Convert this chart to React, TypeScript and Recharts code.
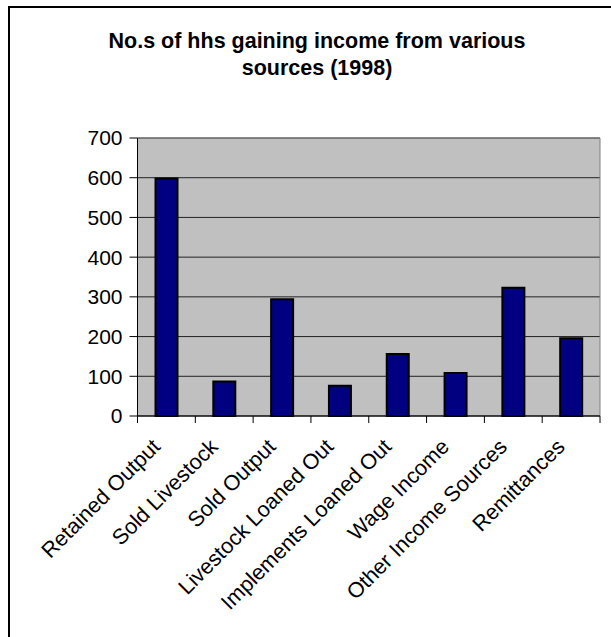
import React from 'react';
import { BarChart, Bar, XAxis, YAxis, CartesianGrid } from 'recharts';

const CATEGORIES = [
  'Retained Output',
  'Sold Livestock',
  'Sold Output',
  'Livestock Loaned Out',
  'Implements Loaned Out',
  'Wage Income',
  'Other Income Sources',
  'Remittances',
];
const HOUSEHOLDS = [598, 87, 294, 76, 156, 108, 323, 196];
const Y_TICKS = [0, 100, 200, 300, 400, 500, 600, 700];

const FONT = '"Liberation Sans", Arial, sans-serif';

const data = CATEGORIES.map((name, i) => ({ name, value: HOUSEHOLDS[i] }));

// angled category label plus Excel-style tick marks between categories
const CategoryTick = (props: any) => {
  const { x, y, payload, index, width, visibleTicksCount } = props;
  const band = width / visibleTicksCount;
  const axisY = y - 7;
  return (
    <g>
      <line x1={x - band / 2} x2={x - band / 2} y1={axisY} y2={axisY + 7} stroke="#000" />
      {index === visibleTicksCount - 1 && (
        <line x1={x + band / 2} x2={x + band / 2} y1={axisY} y2={axisY + 7} stroke="#000" />
      )}
      <text
        x={0}
        y={0}
        transform={`translate(${x - 5},${y + 25}) rotate(-45)`}
        textAnchor="end"
        fontSize={21.6}
        fontFamily={FONT}
        fill="#000"
      >
        {payload.value}
      </text>
    </g>
  );
};

const App: React.FC = () => {
  return (
    <div
      style={{
        position: 'absolute',
        left: 8,
        top: 6,
        width: 601,
        height: 629,
        borderTop: '2px solid #000',
        borderLeft: '2px solid #000',
        background: '#fff',
        fontFamily: FONT,
      }}
    >
      <div
        style={{
          position: 'absolute',
          left: 57,
          top: 20,
          width: 500,
          textAlign: 'center',
          fontSize: 21.5,
          fontWeight: 'bold',
          lineHeight: '26.6px',
        }}
      >
        No.s of hhs gaining income from various
        <br />
        sources (1998)
      </div>
      <BarChart
        width={600}
        height={625}
        data={data}
        margin={{ top: 130, right: 10, bottom: 67, left: 67.5 }}
        barSize={22}
      >
        <CartesianGrid
          vertical={false}
          fill="#C0C0C0"
          stroke="#222"
          strokeOpacity={1}
        />
        <CartesianGrid
          stroke="#808080"
          fill="none"
          horizontalCoordinatesGenerator={({ offset }: any) => [offset.top]}
          verticalCoordinatesGenerator={({ offset }: any) => [offset.left + offset.width]}
        />
        <XAxis
          dataKey="name"
          interval={0}
          height={150}
          tickSize={7}
          tickMargin={0}
          tickLine={false}
          axisLine={{ stroke: '#000' }}
          tick={<CategoryTick />}
        />
        <YAxis
          width={60}
          domain={[0, 700]}
          ticks={Y_TICKS}
          interval={0}
          tickSize={8}
          tickMargin={7}
          axisLine={{ stroke: '#000' }}
          tickLine={{ stroke: '#000' }}
          tick={{ fill: '#000', fontSize: 21, fontFamily: FONT }}
        />
        <Bar dataKey="value" fill="#000080" stroke="#000" strokeWidth={2} isAnimationActive={false} />
      </BarChart>
    </div>
  );
};

export default App;
